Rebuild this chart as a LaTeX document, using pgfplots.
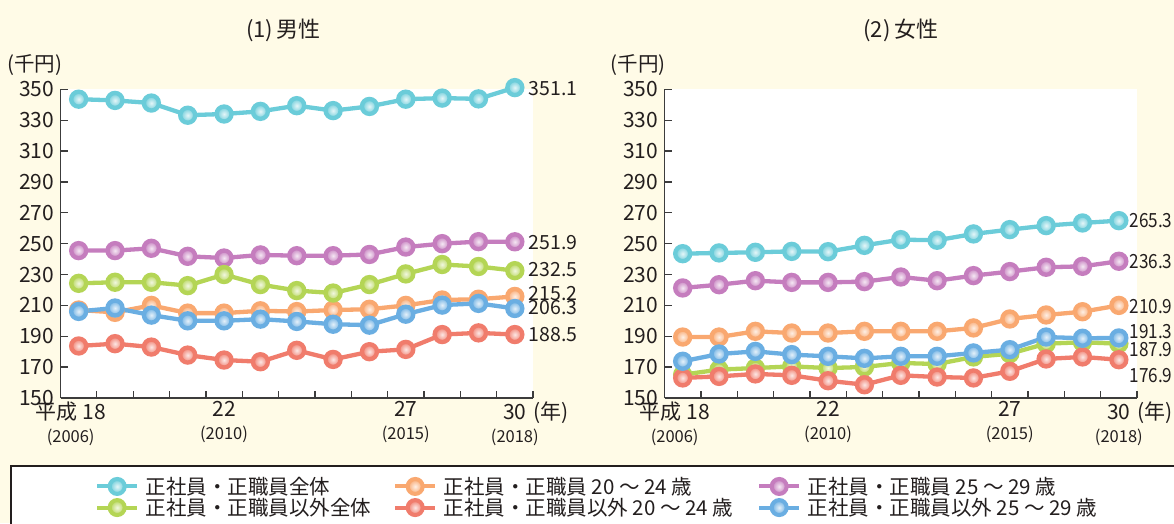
\documentclass[border=0pt]{standalone}
\usepackage{fontspec}
\setmainfont{Noto Sans CJK JP}
\usepackage{graphicx}
\usepackage{pgfplots}
\pgfplotsset{compat=1.18}

\definecolor{bgc}{RGB}{255,251,231}
\definecolor{txtc}{RGB}{35,30,30}
\definecolor{axc}{RGB}{60,60,60}
\definecolor{cCyan}{RGB}{107,204,217}
\definecolor{cOrange}{RGB}{249,168,112}
\definecolor{cPink}{RGB}{197,125,190}
\definecolor{cGreen}{RGB}{180,213,85}
\definecolor{cRed}{RGB}{240,124,108}
\definecolor{cBlue}{RGB}{106,174,226}

\newcommand\nlab[1]{\scalebox{0.88}[1]{#1}}

% shaded ball marker, colour given by ballc
\tikzset{ballc/.store in=\ballc, ballc=black,
  lab/.style={anchor=west, inner sep=0pt, text=txtc, font=\fontsize{19.5}{22}\selectfont}}
\pgfdeclareplotmark{gball}{%
  \shade[inner color=\ballc!18!white, outer color=\ballc] (0pt,0pt) circle (\pgfplotmarksize);}

\pgfplotsset{
  ser/.style={color=#1, line width=4.3pt, mark=gball, mark size=7.5pt,
    mark options={ballc=#1, solid}},
  panel/.style={
    scale only axis, width=472.5pt, height=308.7pt,
    xmin=0.5, xmax=13.5, ymin=150, ymax=350,
    clip=false,
    axis background/.style={fill=white},
    axis x line*=bottom, axis y line*=left,
    axis line style={draw=axc, line width=1.3pt, -},
    tick style={draw=axc, line width=1.3pt},
    tick align=inside, major tick length=7pt,
    ytick={150,170,...,350},
    yticklabel style={xshift=-3pt},
    xtick={1.5,2.5,...,13.5}, xticklabels={,,,,,,,,,,,,,},
    extra x ticks={1,5,10,13},
    extra x tick style={major tick length=0pt, tick style={draw=none}},
    extra x tick labels={
      {平成 18\rule{16pt}{0pt}\\{\fontsize{16.5}{18}\selectfont (2006)}\rule{16pt}{0pt}},
      {22\\{\fontsize{16.5}{18}\selectfont (2010)}},
      {27\\{\fontsize{16.5}{18}\selectfont (2015)}},
      {30\rlap{\hspace{7pt}(年)}\\{\fontsize{16.5}{18}\selectfont (2018)}}},
    xticklabel style={align=center},
    /pgf/number format/assume math mode=true,
    tick label style={font=\fontsize{21}{23}\selectfont, text=txtc},
  },
}

\begin{document}
\begin{tikzpicture}
\path[use as bounding box] (0pt,0pt) rectangle (1174pt,523pt);
\fill[bgc] (0pt,0pt) rectangle (1174pt,523pt);
\draw[txtc, line width=1.5pt, fill=white] (11pt,-5pt) rectangle (1185pt,57pt);

% (1) male
\begin{axis}[panel, at={(60.5pt,125pt)}, anchor=south west,
  legend columns=3, legend cell align=left,
  legend image code/.code={\draw[mark repeat=2, mark phase=2, #1, line width=4pt]
    plot coordinates {(0pt,0pt) (20pt,0pt) (40pt,0pt)};},
  legend style={at={(0.0730,-0.3207)}, anchor=west, draw=none, fill=none,
    inner sep=0pt, column sep=0pt, row sep=2.1pt,
    font=\fontsize{20.5}{22}\selectfont, text=txtc,
    nodes={inner sep=0pt}},
]
\addplot[ser=cCyan] coordinates {(1,343.6) (2,342.8) (3,341.1) (4,333.2) (5,334.0) (6,335.7) (7,339.4) (8,336.2) (9,338.9) (10,343.6) (11,344.3) (12,343.8) (13,351.1)};
\addlegendentry{\makebox[254pt][l]{\hspace*{6.5pt}正社員・正職員全体}}
\addplot[ser=cOrange] coordinates {(1,207.0) (2,205.5) (3,210.0) (4,205.0) (5,205.0) (6,206.5) (7,206.0) (8,207.0) (9,207.5) (10,210.0) (11,213.5) (12,214.0) (13,215.8)};
\addlegendentry{\makebox[320pt][l]{\hspace*{6.5pt}正社員・正職員 20 ～ 24 歳}}
\addplot[ser=cPink] coordinates {(1,245.5) (2,245.5) (3,247.0) (4,241.8) (5,240.7) (6,242.7) (7,242.2) (8,242.2) (9,243.0) (10,247.8) (11,250.0) (12,251.3) (13,251.2)};
\addlegendentry{\hspace*{6.5pt}正社員・正職員 25 ～ 29 歳}
\addplot[ser=cGreen] coordinates {(1,224.3) (2,225.0) (3,225.0) (4,222.8) (5,230.0) (6,223.5) (7,219.6) (8,218.0) (9,223.5) (10,230.4) (11,236.5) (12,235.2) (13,232.5)};
\addlegendentry{\makebox[254pt][l]{\hspace*{6.5pt}正社員・正職員以外全体}}
\addplot[ser=cRed] coordinates {(1,183.7) (2,185.2) (3,183.0) (4,177.8) (5,174.6) (6,173.5) (7,180.9) (8,175.0) (9,180.0) (10,181.5) (11,191.1) (12,192.2) (13,191.1)};
\addlegendentry{\makebox[320pt][l]{\hspace*{6.5pt}正社員・正職員以外 20 ～ 24 歳}}
\addplot[ser=cBlue] coordinates {(1,206.1) (2,208.3) (3,203.7) (4,200.0) (5,200.0) (6,201.1) (7,199.6) (8,197.8) (9,197.2) (10,204.3) (11,210.2) (12,211.3) (13,208.0)};
\addlegendentry{\hspace*{6.5pt}正社員・正職員以外 25 ～ 29 歳}

\node[lab] at (axis cs:13.38,350.8) {351.1};
\node[lab] at (axis cs:13.38,250.6) {251.9};
\node[lab] at (axis cs:13.38,232.9) {232.5};
\node[lab] at (axis cs:13.38,217.4) {215.2};
\node[lab] at (axis cs:13.38,208.8) {206.3};
\node[lab] at (axis cs:13.38,191.3) {188.5};
\node[text=txtc, font=\fontsize{22}{24}\selectfont] at (rel axis cs:0.472,1.192) {(1)\,男性};
\node[text=txtc, font=\fontsize{20.5}{22}\selectfont] at (rel axis cs:-0.054,1.0787) {(千円)};
\end{axis}

% (2) female
\begin{axis}[panel, at={(664.5pt,125pt)}, anchor=south west]
\addplot[ser=cCyan] coordinates {(1,243.5) (2,244.0) (3,244.4) (4,245.0) (5,244.8) (6,248.9) (7,252.6) (8,252.2) (9,256.3) (10,259.1) (11,261.7) (12,263.4) (13,264.9)};
\addplot[ser=cOrange] coordinates {(1,189.5) (2,189.5) (3,193.2) (4,192.1) (5,192.1) (6,193.2) (7,193.2) (8,193.2) (9,195.4) (10,201.2) (11,203.8) (12,205.9) (13,210.0)};
\addplot[ser=cPink] coordinates {(1,221.3) (2,223.4) (3,226.0) (4,224.9) (5,224.9) (6,225.4) (7,228.4) (8,226.0) (9,229.3) (10,231.9) (11,234.7) (12,235.3) (13,238.6)};
\addplot[ser=cGreen] coordinates {(1,165.1) (2,168.4) (3,169.4) (4,170.5) (5,169.4) (6,170.1) (7,172.7) (8,172.0) (9,176.6) (10,178.7) (11,185.2) (12,186.1) (13,185.2)};
\addplot[ser=cRed] coordinates {(1,163.0) (2,164.0) (3,165.6) (4,164.7) (5,161.2) (6,158.6) (7,164.7) (8,163.6) (9,163.0) (10,167.3) (11,175.3) (12,176.6) (13,174.8)};
\addplot[ser=cBlue] coordinates {(1,173.8) (2,178.5) (3,180.2) (4,178.1) (5,177.0) (6,175.7) (7,177.0) (8,177.0) (9,179.2) (10,181.3) (11,189.5) (12,188.7) (13,188.9)};

\node[lab] at (axis cs:13.29,264.9) {\nlab{265.3}};
\node[lab] at (axis cs:13.29,238.6) {\nlab{236.3}};
\node[lab] at (axis cs:13.29,209.2) {\nlab{210.9}};
\node[lab] at (axis cs:13.29,193.0) {\nlab{191.3}};
\node[lab] at (axis cs:13.29,181.1) {\nlab{187.9}};
\node[lab] at (axis cs:13.29,164.3) {\nlab{176.9}};
\node[text=txtc, font=\fontsize{22}{24}\selectfont] at (rel axis cs:0.5,1.192) {(2)\,女性};
\node[text=txtc, font=\fontsize{20.5}{22}\selectfont] at (rel axis cs:-0.056,1.0787) {(千円)};
\end{axis}
\end{tikzpicture}
\end{document}
